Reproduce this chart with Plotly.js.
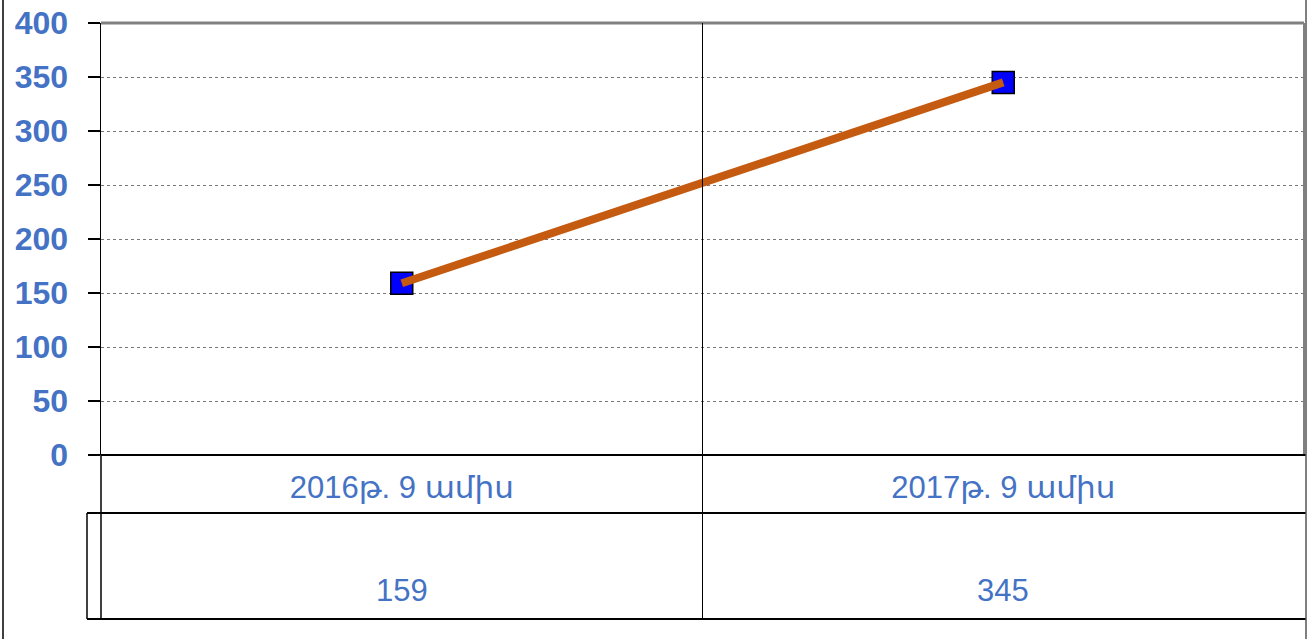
<!DOCTYPE html>
<html>
<head>
<meta charset="utf-8">
<script src="https://cdn.plot.ly/plotly-3.0.1.min.js"></script>
<style>
html,body{margin:0;padding:0;background:#fff;}
#chart{width:1309px;height:639px;}
</style>
</head>
<body>
<div id="chart"></div>
<script>
const categories = ["2016թ. 9 ամիս", "2017թ. 9 ամիս"];
const values = [159, 345];
const yTicks = [0, 50, 100, 150, 200, 250, 300, 350, 400];

const blue = '#4472C4';
const fontFam = 'Liberation Sans, Arial, DejaVu Sans, sans-serif';

const xs = categories.map((c, i) => i);

const traces = [
  {
    x: xs, y: values, type: 'scatter', mode: 'markers',
    marker: {symbol: 'square', size: 22, color: '#0000FF', line: {color: '#000', width: 1.5}},
    hoverinfo: 'skip', showlegend: false
  },
  {
    x: xs, y: values, type: 'scatter', mode: 'lines',
    line: {color: '#C55A11', width: 8},
    hoverinfo: 'skip', showlegend: false
  }
];

// table row geometry in paper units (plot area height = 432px)
const row1Bottom = -58 / 432;
const tableBottom = -164 / 432;
const valueY = -135 / 432;

const annotations = values.map((v, i) => ({
  x: i, xref: 'x', y: valueY, yref: 'paper',
  text: String(v), showarrow: false,
  font: {family: fontFam, size: 31, color: blue},
  xanchor: 'center', yanchor: 'middle'
}));

const line = (x0, y0, x1, y1, xref, color, w) => ({
  type: 'line', xref: xref, yref: 'paper', x0: x0, x1: x1, y0: y0, y1: y1,
  line: {color: color, width: w}, layer: 'above'
});

const shapes = [
  // plot top and right borders
  line(0, 1, 1, 1, 'paper', '#808080', 3),
  line(1, 0, 1, 1, 'paper', '#808080', 2),
  // category divider through plot and table
  line(0.5, tableBottom, 0.5, 1, 'x', '#000', 1),
  // table horizontal lines
  line(-14 / 1203, row1Bottom, 1205 / 1203, row1Bottom, 'paper', '#000', 2),
  line(-14 / 1203, tableBottom, 1205 / 1203, tableBottom, 'paper', '#000', 2),
  line(0, 0, 1205 / 1203, 0, 'paper', '#000', 2),
  // table vertical lines
  line(0, tableBottom, 0, 0, 'paper', '#000', 1.5),
  line(-14 / 1203, tableBottom, -14 / 1203, row1Bottom, 'paper', '#000', 1.5),
  // outer frame
  line(-98 / 1203, -184 / 432, -98 / 1203, 455 / 432, 'paper', '#000', 1.5),
  line(1205 / 1203, -184 / 432, 1205 / 1203, 455 / 432, 'paper', '#555', 1.5)
];

const layout = {
  width: 1309, height: 639,
  margin: {l: 101, r: 5, t: 23, b: 184, pad: 0},
  paper_bgcolor: '#fff', plot_bgcolor: '#fff',
  showlegend: false,
  xaxis: {
    type: 'linear', range: [-0.5, 1.5],
    tickmode: 'array', tickvals: xs, ticktext: categories,
    showgrid: false, zeroline: false, showline: false, ticks: '',
    tickfont: {family: fontFam, size: 31, color: blue},
    ticklabelstandoff: 11
  },
  yaxis: {
    range: [0, 400], tickmode: 'array', tickvals: yTicks,
    ticks: 'outside', ticklen: 12, tickcolor: '#000', tickwidth: 1.5,
    showline: true, linecolor: '#000', linewidth: 1.5,
    showgrid: true, gridcolor: '#777', griddash: 'dot', gridwidth: 1,
    zeroline: false,
    tickfont: {family: fontFam, size: 32, color: blue, weight: 'bold'},
    ticklabelstandoff: 13
  },
  shapes: shapes,
  annotations: annotations
};

Plotly.newPlot('chart', traces, layout, {staticPlot: true, displayModeBar: false});
</script>
</body>
</html>
